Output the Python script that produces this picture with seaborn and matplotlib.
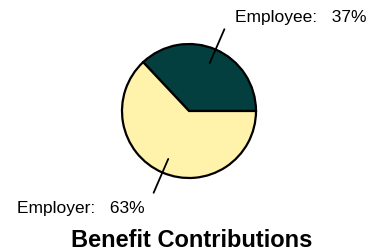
import numpy as np
import matplotlib
matplotlib.use("Agg")
import matplotlib.pyplot as plt
import seaborn as sns

# data
labels = ["Employee", "Employer"]
shares = [37, 63]
colors = ["#033F3F", "#FFF2AA"]
title = "Benefit Contributions"

sns.set_theme(style="white")
plt.rcParams["font.family"] = ["Liberation Sans", "DejaVu Sans"]

fig = plt.figure(figsize=(3.77, 2.51), dpi=100)
ax = fig.add_axes([0, 0, 1, 1])

cx, cy, r = 189, 139, 67
wedges, _ = ax.pie(
    shares,
    colors=colors,
    startangle=0,
    counterclock=True,
    center=(cx, cy),
    radius=r,
    wedgeprops=dict(edgecolor="black", linewidth=1.6),
    frame=True,
)
ax.set_xlim(0, 377)
ax.set_ylim(0, 251)
ax.set_aspect("equal")
ax.axis("off")

# leader lines + labels
offsets = [(11, 13, "left"), (-9, -15, "right")]
for w, lab, val, (dx, dy, ha) in zip(wedges, labels, shares, offsets):
    ang = np.deg2rad((w.theta1 + w.theta2) / 2)
    x0, y0 = cx + 0.78 * r * np.cos(ang), cy + 0.78 * r * np.sin(ang)
    x1, y1 = cx + 1.33 * r * np.cos(ang), cy + 1.33 * r * np.sin(ang)
    ax.plot([x0, x1], [y0, y1], color="black", lw=1.3)
    ax.text(x1 + dx, y1 + dy, f"{lab}:   {val}%", ha=ha, va="center",
            fontsize=12.5, color="black")

ax.text(192, 10, title, ha="center", va="center", fontsize=17,
        fontweight="bold", color="black")

fig.savefig("out.png", dpi=100)
